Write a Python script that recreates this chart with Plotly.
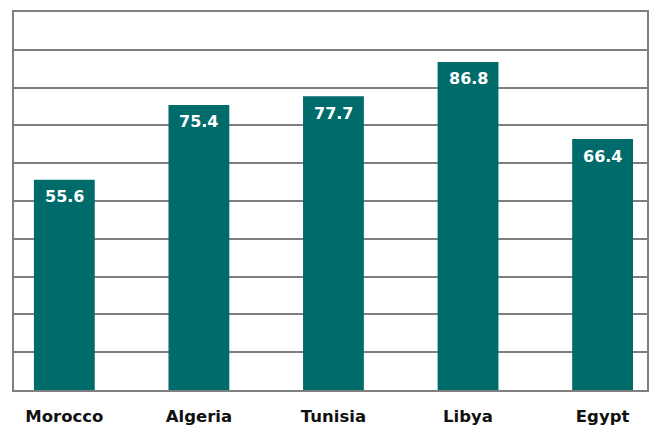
import plotly.graph_objects as go

countries = ["Morocco", "Algeria", "Tunisia", "Libya", "Egypt"]
values = [55.6, 75.4, 77.7, 86.8, 66.4]
labels = ["55.6", "75.4", "77.7", "86.8", "66.4"]

fig = go.Figure(go.Bar(
    x=countries, y=values,
    marker=dict(color="#006b6b", line=dict(width=0)),
    width=0.452, hoverinfo="skip",
))

for c, v, t in zip(countries, values, labels):
    fig.add_annotation(
        x=c, y=v, text=t, showarrow=False,
        yanchor="middle", yshift=-17,
        font=dict(family="DejaVu Sans", size=16, color="white", weight="bold"),
    )

fig.update_layout(
    width=652, height=429,
    margin=dict(l=14, r=3, t=12, b=38),
    paper_bgcolor="white", plot_bgcolor="white",
    showlegend=False,
)
fig.update_xaxes(
    type="category", range=[-0.374, 4.330],
    showline=True, linecolor="#808080", linewidth=1.5, mirror=True,
    ticks="outside", ticklen=10, tickcolor="rgba(0,0,0,0)",
    tickfont=dict(family="DejaVu Sans", size=16.5, color="#111111", weight="bold"),
    showgrid=False,
)
fig.update_yaxes(
    range=[0, 100], dtick=10, showticklabels=False,
    showgrid=True, gridcolor="#7f7f7f", gridwidth=1.5,
    showline=True, linecolor="#808080", linewidth=1.5, mirror=True,
    zeroline=False, ticks="",
)

fig.write_html("out.html", config={"displayModeBar": False},
               post_script="document.body.style.margin='0';")
